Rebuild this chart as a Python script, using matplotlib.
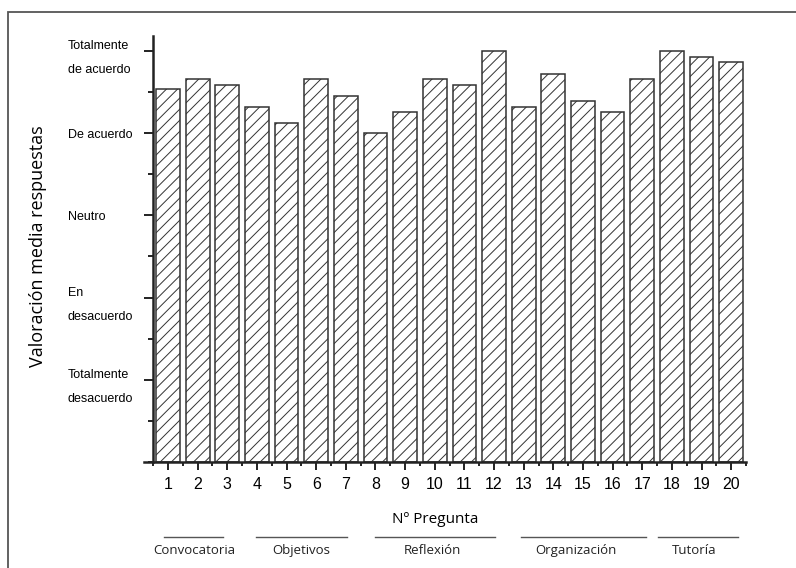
import numpy as np
import matplotlib.pyplot as plt
from matplotlib.patches import Rectangle
from matplotlib.ticker import MultipleLocator

# data
preguntas = list(range(1, 21))
valoracion = [4.53, 4.66, 4.59, 4.32, 4.12, 4.66, 4.45, 4.00, 4.25, 4.66,
              4.59, 5.00, 4.32, 4.72, 4.39, 4.25, 4.66, 5.00, 4.92, 4.86]
escala = [1, 2, 3, 4, 5]
escala_txt = ["Totalmente\ndesacuerdo", "En\ndesacuerdo", "Neutro",
              "De acuerdo", "Totalmente\nde acuerdo"]
grupos = ["Convocatoria", "Objetivos", "Reflexión", "Organización", "Tutoría"]
grupo_ini = [0.86, 3.97, 8.0, 12.9, 17.53]
grupo_fin = [2.86, 7.05, 12.02, 17.13, 20.24]
grupo_txt_x = [1.88, 5.50, 9.93, 14.76, 18.75]

fig = plt.figure(figsize=(7.96, 5.68), dpi=100)
ax = fig.add_axes([144.3 / 796, 106 / 568, (746 - 144.3) / 796, (462 - 36) / 568])

# frame around figure (only left/top visible in the original)
fig.patches.append(Rectangle((8 / 796, -0.1), 1.2, (556 / 568) + 0.1,
                             transform=fig.transFigure, fill=False,
                             edgecolor="#555555", linewidth=1.3))

plt.rcParams['hatch.linewidth'] = 0.7
ax.bar(preguntas, valoracion, width=0.8, facecolor="white", edgecolor="#333333",
       linewidth=1.1, hatch="///")

ax.set_xlim(0.2, 20.5)
ax.set_ylim(0, 5.18)
ax.spines['left'].set_position(('data', 0.5))
ax.spines['top'].set_visible(False)
ax.spines['right'].set_visible(False)
for s in ['left', 'bottom']:
    ax.spines[s].set_linewidth(1.8)
    ax.spines[s].set_color("#222222")

ax.set_xticks(preguntas)
ax.set_xticklabels([str(p) for p in preguntas], fontfamily="Liberation Sans", fontsize=11.5)
ax.xaxis.set_minor_locator(MultipleLocator(1, offset=0.5))
ax.tick_params(axis='x', which='major', length=6, width=1.4, color="#222222", pad=5)
ax.tick_params(axis='x', which='minor', length=3, width=1.4, color="#222222")

ax.set_yticks(escala)
ax.set_yticklabels(escala_txt, fontfamily="Liberation Sans", fontsize=9,
                   ha="left", linespacing=2.3)
ax.yaxis.set_minor_locator(MultipleLocator(0.5))
ax.tick_params(axis='y', which='major', length=6.5, width=1.4, color="#222222", pad=55)
ax.tick_params(axis='y', which='minor', length=3.5, width=1.4, color="#222222")

ax.set_ylabel("Valoración media respuestas", fontfamily="Open Sans", fontsize=13)
ax.yaxis.set_label_coords((47 - 144.3) / (746 - 144.3), (462 - 246) / (462 - 36))
ax.set_xlabel("Nº Pregunta", fontfamily="Open Sans", fontsize=11)
ax.xaxis.set_label_coords((435 - 144.3) / (746 - 144.3), -(512 - 462) / (462 - 36))

# question groups below axis
trans = ax.get_xaxis_transform()
y_line = -(537 - 462) / (462 - 36)
y_txt = -(554 - 462) / (462 - 36)
for nombre, x0, x1, xt in zip(grupos, grupo_ini, grupo_fin, grupo_txt_x):
    ax.plot([x0, x1], [y_line, y_line], transform=trans, color="#555555",
            linewidth=1.0, clip_on=False)
    ax.text(xt, y_txt, nombre, transform=trans, ha="center", va="baseline",
            fontfamily="Open Sans", fontsize=9.5, color="#222222")

fig.savefig("out.png", dpi=100)
